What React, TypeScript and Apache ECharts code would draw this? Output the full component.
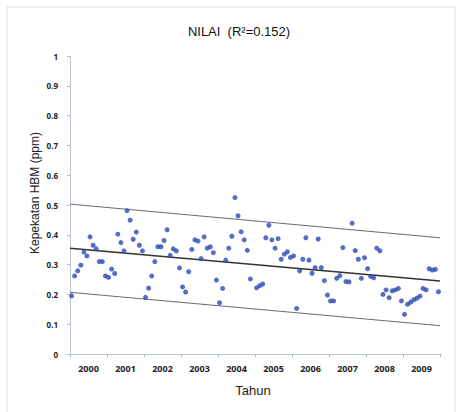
import React, { useEffect, useRef } from "react";
import * as echarts from "echarts";

const years = ["2000", "2001", "2002", "2003", "2004", "2005", "2006", "2007", "2008", "2009"];
const yTicks = [0, 0.1, 0.2, 0.3, 0.4, 0.5, 0.6, 0.7, 0.8, 0.9, 1];

// monthly values (ppm), null = no reading
const v2000 = [0.195, 0.262, 0.279, 0.298, 0.342, 0.329, 0.393, 0.365, 0.353, 0.31, 0.31, 0.262];
const v2001 = [0.257, 0.285, 0.27, 0.402, 0.374, 0.346, 0.481, 0.449, 0.385, 0.409, 0.365, 0.346];
const v2002 = [0.19, 0.221, 0.262, 0.31, 0.36, 0.36, 0.381, 0.417, 0.331, 0.353, 0.346, 0.289];
const v2003 = [0.225, 0.208, 0.276, 0.351, 0.383, 0.379, 0.32, 0.393, 0.355, 0.36, 0.34, 0.248];
const v2004 = [0.172, 0.22, 0.315, 0.355, 0.395, 0.525, 0.464, 0.41, 0.383, 0.348, 0.252, null];
const v2005 = [0.222, 0.229, 0.235, 0.39, 0.432, 0.383, 0.355, 0.387, 0.318, 0.335, 0.343, 0.324];
const v2006 = [0.329, 0.153, 0.279, 0.318, 0.39, 0.315, 0.271, 0.29, 0.386, 0.29, 0.246, 0.198];
const v2007 = [0.178, 0.178, 0.254, 0.263, 0.357, 0.243, 0.242, 0.439, 0.347, 0.318, 0.254, 0.323];
const v2008 = [0.286, 0.261, 0.256, 0.355, 0.346, 0.2, 0.215, 0.189, 0.212, 0.215, 0.22, 0.178];
const v2009 = [0.133, 0.167, 0.174, 0.182, 0.187, 0.194, 0.22, 0.215, 0.286, 0.282, 0.284, 0.209];

// trend line and bounds: [start, end] values
const trendLine = [0.355, 0.245];
const upperLine = [0.503, 0.39];
const lowerLine = [0.207, 0.095];

export default function App() {
  const ref = useRef<HTMLDivElement>(null);
  useEffect(() => {
    if (!ref.current) return;
    const chart = echarts.init(ref.current, null, { renderer: "svg" });
    const all = [...v2000, ...v2001, ...v2002, ...v2003, ...v2004, ...v2005, ...v2006, ...v2007, ...v2008, ...v2009];
    const months = all.length;
    const pts = all
      .map((v, i) => (v == null ? null : [i + 0.5, v]))
      .filter((p) => p !== null);
    const lineData = (a: number[]) => [[0, a[0]], [months, a[1]]];
    const axisColor = "#b8c8d8";
    chart.setOption({
      animation: false,
      backgroundColor: "#ffffff",
      title: {
        text: "NILAI  (R²=0.152)",
        left: 234,
        top: 20,
        textAlign: "center",
        textStyle: { fontFamily: "Liberation Sans, Arial, sans-serif", fontSize: 13, fontWeight: "normal", color: "#111" },
      },
      grid: { left: 70, right: 20, top: 56, bottom: 58 },
      xAxis: [
        {
          type: "category",
          data: years,
          boundaryGap: true,
          axisLine: { lineStyle: { color: axisColor, width: 1 } },
          axisTick: { show: true, length: 3, lineStyle: { color: "#a8b8c8" } },
          axisLabel: { margin: 10, fontSize: 9, color: "#222", fontWeight: "bold", fontFamily: "Open Sans, sans-serif" },
          splitLine: { show: false },
        },
        {
          type: "value",
          min: 0,
          max: months,
          show: false,
        },
      ],
      yAxis: {
        type: "value",
        min: 0,
        max: 1,
        interval: 0.1,
        axisLine: { show: true, lineStyle: { color: axisColor, width: 1 } },
        axisTick: { show: true, length: 3, lineStyle: { color: "#b0c0d0" } },
        axisLabel: {
          margin: 12,
          fontSize: 8,
          color: "#222",
          fontWeight: "bold",
          fontFamily: "Open Sans, sans-serif",
          formatter: (v: number) => {
            const t = yTicks.find((x) => Math.abs(x - v) < 1e-6);
            return t === undefined ? "" : String(Math.round(t * 10) / 10);
          },
        },
        splitLine: { show: false },
      },
      graphic: [
        {
          type: "rect",
          shape: { x: 7, y: 7, width: 448, height: 430 },
          style: { fill: "none", stroke: "#dcdcdc", lineWidth: 1 },
          silent: true,
          z: -10,
        },
        {
          type: "text",
          x: 35,
          y: 193,
          rotation: Math.PI / 2,
          style: {
            text: "Kepekatan HBM (ppm)",
            fontSize: 12,
            fontFamily: "Liberation Sans, Arial, sans-serif",
            fill: "#222",
            textAlign: "center",
            textVerticalAlign: "middle",
          },
        },
        {
          type: "text",
          x: 253,
          y: 390,
          style: {
            text: "Tahun",
            fontSize: 13,
            fontFamily: "Liberation Sans, Arial, sans-serif",
            fill: "#222",
            textAlign: "center",
            textVerticalAlign: "middle",
          },
        },
      ],
      series: [
        {
          type: "line",
          xAxisIndex: 1,
          data: lineData(upperLine),
          symbol: "none",
          lineStyle: { color: "#6a6a6a", width: 1 },
          silent: true,
        },
        {
          type: "line",
          xAxisIndex: 1,
          data: lineData(trendLine),
          symbol: "none",
          lineStyle: { color: "#333", width: 1.5 },
          silent: true,
        },
        {
          type: "line",
          xAxisIndex: 1,
          data: lineData(lowerLine),
          symbol: "none",
          lineStyle: { color: "#6a6a6a", width: 1 },
          silent: true,
        },
        {
          type: "scatter",
          xAxisIndex: 1,
          data: pts,
          symbol: "circle",
          symbolSize: 5,
          itemStyle: { color: "#2b48b5" },
          z: 5,
        },
      ],
    });
    return () => chart.dispose();
  }, []);
  return <div ref={ref} style={{ position: "fixed", left: 0, top: 0, width: 460, height: 412 }} />;
}
